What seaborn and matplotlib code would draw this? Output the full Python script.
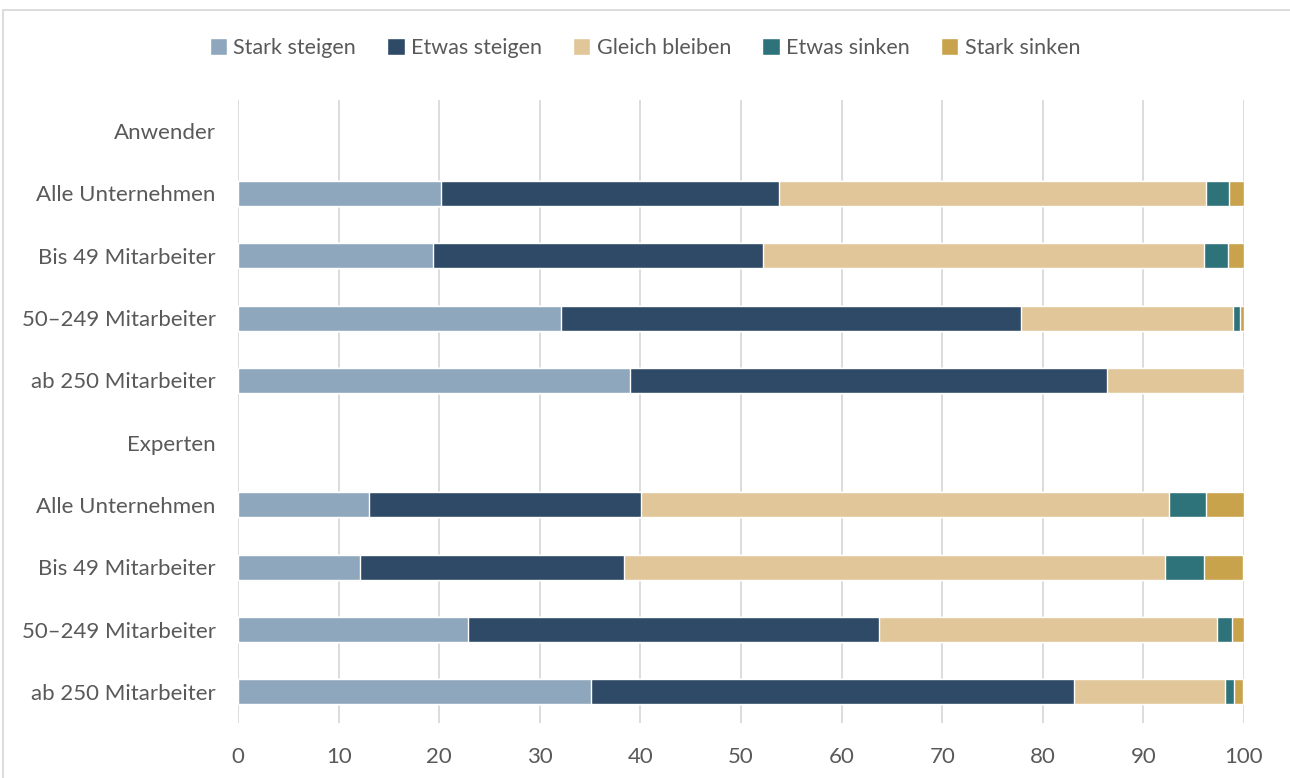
import numpy as np
import pandas as pd
import matplotlib.pyplot as plt
import seaborn as sns
from matplotlib.patches import Patch, Rectangle

rows = ['Anwender', 'Alle Unternehmen', 'Bis 49 Mitarbeiter', '50–249 Mitarbeiter', 'ab 250 Mitarbeiter',
        'Experten', 'Alle Unternehmen', 'Bis 49 Mitarbeiter', '50–249 Mitarbeiter', 'ab 250 Mitarbeiter']
series = ['Stark steigen', 'Etwas steigen', 'Gleich bleiben', 'Etwas sinken', 'Stark sinken']
colors = ['#8FA7BC', '#2E4A66', '#E0C699', '#2F737A', '#C9A24C']

stark_steigen = [np.nan, 20.2, 19.4, 32.1, 39.0, np.nan, 13.0, 12.1, 22.9, 35.1]
etwas_steigen = [np.nan, 33.6, 32.8, 45.7, 47.4, np.nan, 27.1, 26.3, 40.8, 48.0]
gleich_bleiben = [np.nan, 42.4, 43.8, 21.1, 13.6, np.nan, 52.4, 53.7, 33.6, 15.0]
etwas_sinken = [np.nan, 2.3, 2.4, 0.7, 0.0, np.nan, 3.7, 3.9, 1.5, 0.9]
stark_sinken = [np.nan, 1.5, 1.6, 0.4, 0.0, np.nan, 3.8, 3.9, 1.2, 0.9]

ids = ['r%d' % i for i in range(len(rows))]
df = pd.DataFrame({'id': ids, 'Stark steigen': stark_steigen, 'Etwas steigen': etwas_steigen,
                   'Gleich bleiben': gleich_bleiben, 'Etwas sinken': etwas_sinken,
                   'Stark sinken': stark_sinken})
cum = df[series].cumsum(axis=1)
cum['id'] = ids

sns.set_theme(style='white')
plt.rcParams['font.family'] = ['Lato', 'DejaVu Sans']

fig = plt.figure(figsize=(12.9, 7.78), dpi=100)
ax = fig.add_axes([238 / 1290, 1 - 723 / 778, (1244 - 238) / 1290, (723 - 100) / 778])

# draw cumulative totals from the last series backwards to get stacked bars
for name, col in reversed(list(zip(series, colors))):
    sns.barplot(data=cum, x=name, y='id', order=ids, color=col, width=0.4,
                saturation=1, orient='h', ax=ax, zorder=2)

ax.set_xlim(0, 100)
ax.set_ylim(len(rows) - 0.5, -0.5)
ax.set_xticks(range(0, 101, 10))
ax.set_yticks(range(len(rows)))
ax.set_yticklabels(rows)
ax.set_xlabel('')
ax.set_ylabel('')
ax.grid(axis='x', color='#D9D9D9', linewidth=1.3, zorder=0)
ax.set_axisbelow(True)
for s in ax.spines.values():
    s.set_visible(False)
ax.tick_params(axis='both', length=0, labelsize=16, colors='#595959')
ax.tick_params(axis='y', pad=16)
ax.tick_params(axis='x', pad=17)

handles = [Patch(facecolor=c, label=s) for s, c in zip(series, colors)]
fig.legend(handles=handles, loc='center', bbox_to_anchor=(0.5, 1 - 48 / 778), ncol=5,
           frameon=False, fontsize=15.5, handlelength=0.8, handleheight=0.8,
           handletextpad=0.3, columnspacing=1.45, labelcolor='#595959')

fig.patches.append(Rectangle((3 / 1290, -0.01), 1.01, 1 - 10 / 778 + 0.01, transform=fig.transFigure,
                             fill=False, edgecolor='#D9D9D9', linewidth=1.3))

fig.savefig('out.png', dpi=100)
